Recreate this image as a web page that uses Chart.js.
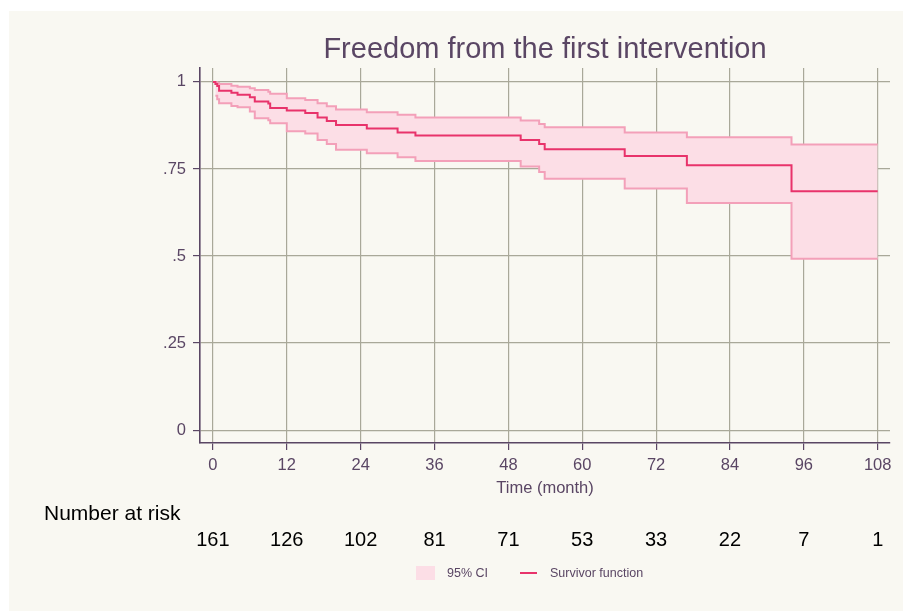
<!DOCTYPE html>
<html>
<head>
<meta charset="utf-8">
<script src="https://cdn.jsdelivr.net/npm/chart.js@4/dist/chart.umd.min.js"></script>
<style>
  html, body { margin: 0; padding: 0; background: #ffffff; }
  #wrap { width: 903px; height: 611px; position: relative; }
</style>
</head>
<body>
<div id="wrap"><canvas id="c" width="903" height="611"></canvas></div>
<script>
// ---- Data ----
const survTimes = [0, 0.4, 0.7, 1.0, 3.0, 4.0, 6.0, 6.8, 9.0, 9.3, 12.0, 15.0, 17.0, 18.5, 20.0, 25.0, 30.0, 32.9, 50.0, 53.0, 53.9, 66.9, 77.0, 94.0, 108];
const survValues = [1.000, 0.994, 0.988, 0.975, 0.969, 0.963, 0.956, 0.944, 0.938, 0.925, 0.918, 0.911, 0.898, 0.888, 0.876, 0.866, 0.855, 0.846, 0.833, 0.822, 0.807, 0.787, 0.761, 0.686, 0.686];

const ciTimes = [0.4, 0.7, 1.0, 3.0, 4.0, 6.0, 6.8, 9.0, 9.3, 12.0, 15.0, 17.0, 18.5, 20.0, 25.0, 30.0, 32.9, 50.0, 53.0, 53.9, 66.9, 77.0, 94.0, 108];
const ciUpper = [0.999, 0.997, 0.994, 0.989, 0.986, 0.982, 0.977, 0.972, 0.966, 0.953, 0.948, 0.939, 0.930, 0.921, 0.913, 0.906, 0.898, 0.889, 0.879, 0.870, 0.855, 0.841, 0.820, 0.820];
const ciLower = [0.960, 0.950, 0.939, 0.931, 0.927, 0.915, 0.896, 0.890, 0.881, 0.858, 0.852, 0.833, 0.822, 0.805, 0.795, 0.784, 0.773, 0.757, 0.741, 0.722, 0.694, 0.652, 0.492, 0.492];

const xTicks = [0, 12, 24, 36, 48, 60, 72, 84, 96, 108];
const xTickLabels = ['0', '12', '24', '36', '48', '60', '72', '84', '96', '108'];
const yTicks = [0, 0.25, 0.5, 0.75, 1];
const yTickLabels = ['0', '.25', '.5', '.75', '1'];
const atRiskTimes = [0, 12, 24, 36, 48, 60, 72, 84, 96, 108];
const atRiskCounts = [161, 126, 102, 81, 71, 53, 33, 22, 7, 1];

const titleText = 'Freedom from the first intervention';
const xTitleText = 'Time (month)';
const atRiskLabel = 'Number at risk';
const legendCI = '95% CI';
const legendSurv = 'Survivor function';

// ---- Styles ----
const FONT = '"Liberation Sans", Arial, Helvetica, sans-serif';
const PURPLE = '#5a4664';
const GRID = '#a9a899';
const SURV_COLOR = '#e8336b';
const CI_LINE = '#f3a0b9';
const CI_FILL = '#fcdee6';

const toXY = (xs, ys) => xs.map((x, i) => ({ x: x, y: ys[i] }));

const decorPlugin = {
  id: 'decor',
  beforeDraw(chart) {
    const ctx = chart.ctx;
    ctx.save();
    ctx.fillStyle = '#ffffff';
    ctx.fillRect(0, 0, chart.width, chart.height);
    ctx.fillStyle = '#f9f8f2';
    ctx.fillRect(9, 11, chart.width - 9, chart.height - 11);
    ctx.restore();
  },
  afterDraw(chart) {
    const ctx = chart.ctx;
    const ca = chart.chartArea;
    const xs = chart.scales.x;
    ctx.save();
    // Title
    ctx.fillStyle = PURPLE;
    ctx.font = '29px ' + FONT;
    ctx.textAlign = 'center';
    ctx.textBaseline = 'middle';
    ctx.fillText(titleText, (ca.left + ca.right) / 2, 50);
    // Number at risk
    ctx.fillStyle = '#000000';
    ctx.font = '21px ' + FONT;
    ctx.textAlign = 'left';
    ctx.fillText(atRiskLabel, 44, 514);
    ctx.font = '20px ' + FONT;
    ctx.textAlign = 'center';
    atRiskTimes.forEach((t, i) => {
      ctx.fillText(String(atRiskCounts[i]), xs.getPixelForValue(t), 540);
    });
    // Legend
    ctx.fillStyle = CI_FILL;
    ctx.fillRect(416, 566, 19, 14);
    ctx.fillStyle = PURPLE;
    ctx.font = '12.5px ' + FONT;
    ctx.textAlign = 'left';
    ctx.fillText(legendCI, 447, 574);
    ctx.strokeStyle = SURV_COLOR;
    ctx.lineWidth = 2;
    ctx.beginPath();
    ctx.moveTo(520, 573);
    ctx.lineTo(537, 573);
    ctx.stroke();
    ctx.fillText(legendSurv, 550, 574);
    ctx.restore();
  }
};

new Chart(document.getElementById('c'), {
  type: 'line',
  data: {
    datasets: [
      {
        label: 'Upper',
        data: toXY(ciTimes, ciUpper),
        borderColor: CI_LINE,
        borderWidth: 2,
        backgroundColor: CI_FILL,
        fill: '+1',
        stepped: true,
        pointRadius: 0,
        order: 2
      },
      {
        label: 'Lower',
        data: toXY(ciTimes, ciLower),
        borderColor: CI_LINE,
        borderWidth: 2,
        fill: false,
        stepped: true,
        pointRadius: 0,
        order: 1
      },
      {
        label: legendSurv,
        data: toXY(survTimes, survValues),
        borderColor: SURV_COLOR,
        borderWidth: 2,
        fill: false,
        stepped: true,
        pointRadius: 0,
        order: 0
      }
    ]
  },
  options: {
    responsive: false,
    animation: false,
    events: [],
    layout: { padding: { left: 140, right: 13, top: 68, bottom: 113 } },
    plugins: {
      legend: { display: false },
      tooltip: { enabled: false },
      title: { display: false }
    },
    scales: {
      x: {
        type: 'linear',
        min: -2.1,
        max: 110,
        afterBuildTicks: (s) => { s.ticks = xTicks.map(v => ({ value: v })); },
        afterFit: (s) => { s.height = 55; },
        ticks: {
          autoSkip: false,
          maxRotation: 0,
          padding: 6,
          color: PURPLE,
          font: { family: FONT, size: 16.5 },
          callback: (v) => { const i = xTicks.indexOf(v); return i >= 0 ? xTickLabels[i] : ''; }
        },
        grid: { color: GRID, lineWidth: 1.2, tickColor: PURPLE, tickLength: 7, drawTicks: true },
        border: { display: true, color: PURPLE, width: 1.6 },
        title: {
          display: true,
          text: xTitleText,
          color: PURPLE,
          font: { family: FONT, size: 16.5 },
          padding: { top: 0, bottom: 0 }
        }
      },
      y: {
        type: 'linear',
        min: -0.037,
        max: 1.04,
        afterBuildTicks: (s) => { s.ticks = yTicks.map(v => ({ value: v })); },
        afterFit: (s) => { s.width = 60; },
        ticks: {
          autoSkip: false,
          padding: 7,
          color: PURPLE,
          font: { family: FONT, size: 16.5 },
          callback: (v) => { const i = yTicks.indexOf(v); return i >= 0 ? yTickLabels[i] : ''; }
        },
        grid: { color: GRID, lineWidth: 1.2, tickColor: PURPLE, tickLength: 7, drawTicks: true },
        border: { display: true, color: PURPLE, width: 1.6 }
      }
    }
  },
  plugins: [decorPlugin]
});
</script>
</body>
</html>
